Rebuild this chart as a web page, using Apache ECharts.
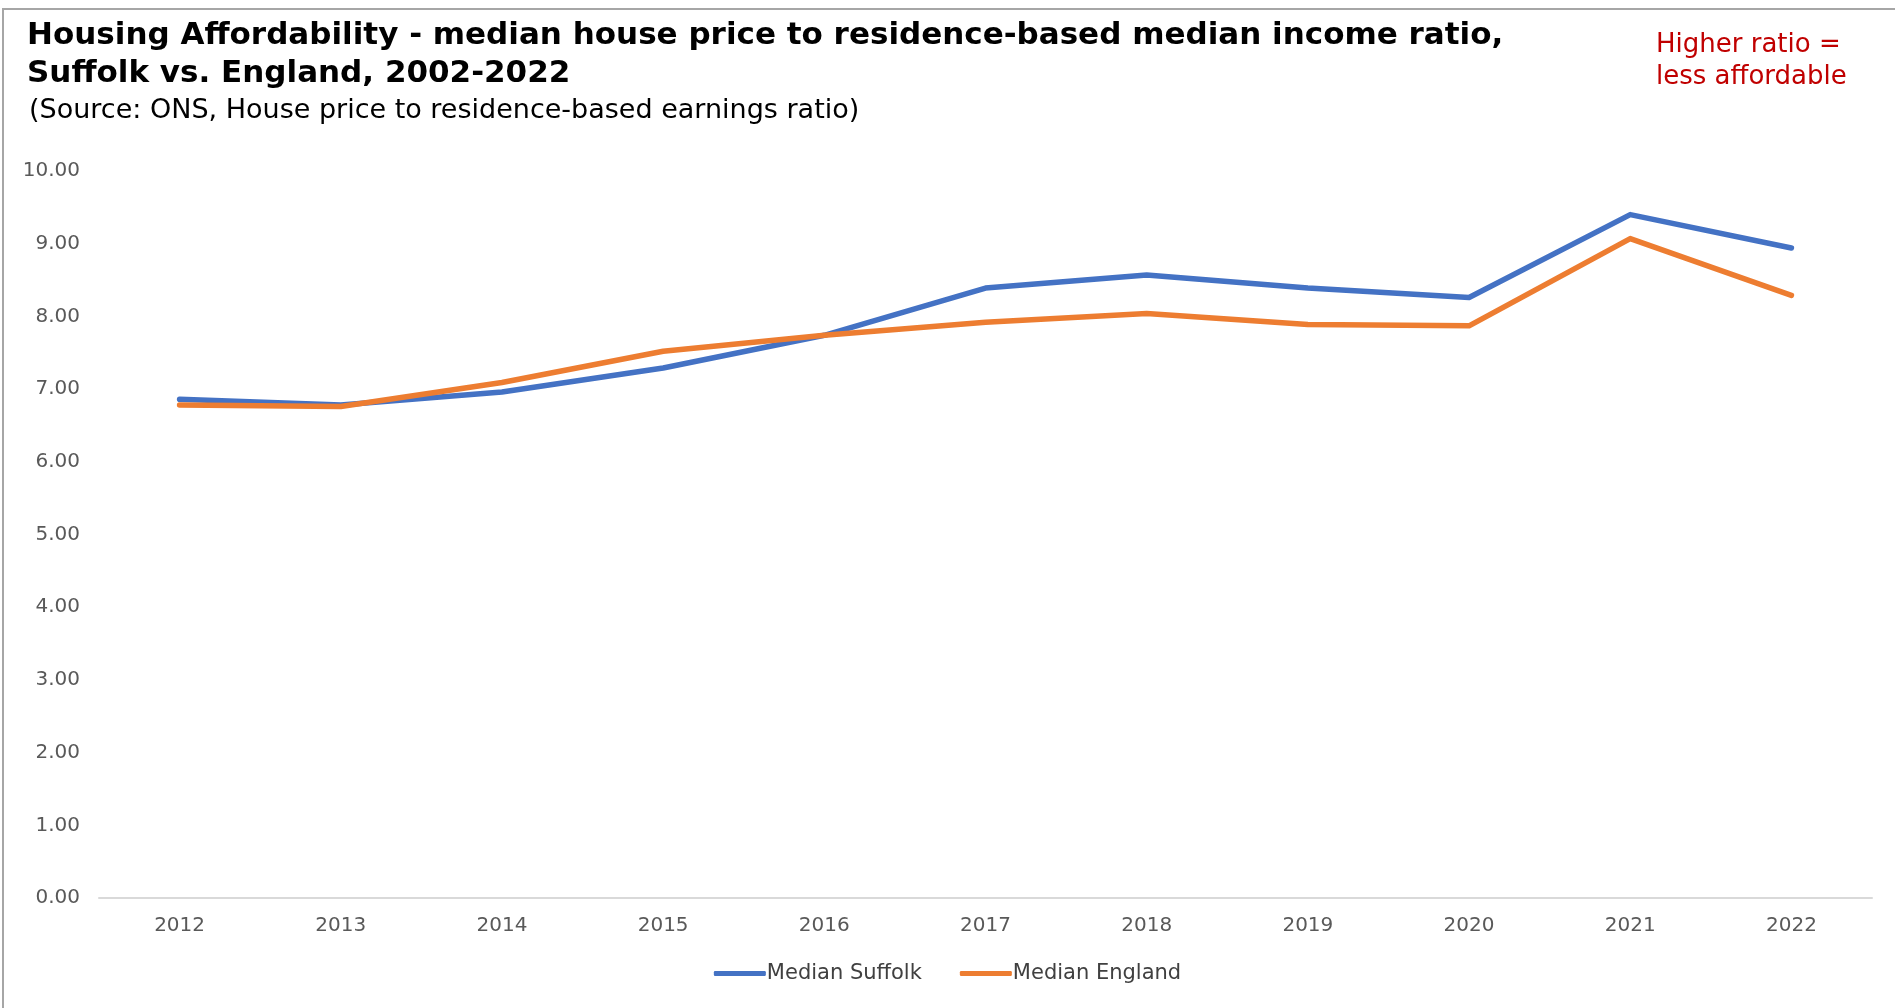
<!DOCTYPE html>
<html>
<head>
<meta charset="utf-8">
<title>Housing Affordability</title>
<script src="https://cdn.jsdelivr.net/npm/echarts@6/dist/echarts.min.js"></script>
<style>
  html, body { margin: 0; padding: 0; background: #fff; }
  #frame {
    position: absolute; left: 2px; top: 8px; width: 1900px; height: 1010px;
    border-left: 2px solid #a6a6a6; border-top: 2px solid #a6a6a6;
  }
  #main { position: absolute; left: 0; top: 0; width: 1895px; height: 1008px; }
</style>
</head>
<body>
<div id="frame"></div>
<div id="main"></div>
<script>
// data
var years = ['2012', '2013', '2014', '2015', '2016', '2017', '2018', '2019', '2020', '2021', '2022'];
var suffolk = [6.86, 6.78, 6.96, 7.29, 7.74, 8.39, 8.57, 8.39, 8.26, 9.40, 8.94];
var england = [6.78, 6.76, 7.09, 7.52, 7.74, 7.92, 8.04, 7.89, 7.87, 9.07, 8.29];

var font = 'DejaVu Sans';
var chart = echarts.init(document.getElementById('main'));

var option = {
    animation: false,
    title: [
        {
            text: 'Housing Affordability - median house price to residence-based median income ratio,\nSuffolk vs. England, 2002-2022',
            left: 22, top: 12,
            textStyle: { fontFamily: font, fontSize: 31, fontWeight: 'bold', color: '#000', lineHeight: 38 }
        },
        {
            text: '(Source: ONS, House price to residence-based earnings ratio)',
            left: 24, top: 90,
            textStyle: { fontFamily: font, fontSize: 27, fontWeight: 'normal', color: '#000', lineHeight: 32 }
        },
        {
            text: 'Higher ratio =\nless affordable',
            left: 1651, top: 24,
            textStyle: { fontFamily: font, fontSize: 26, fontWeight: 'normal', color: '#c00000', lineHeight: 32 }
        }
    ],
    legend: {
        data: ['Median Suffolk', 'Median England'],
        bottom: 19,
        left: 'center',
        itemWidth: 52,
        itemHeight: 5,
        itemGap: 38,
        icon: 'roundRect',
        textStyle: { fontFamily: font, fontSize: 21, color: '#404040', padding: [0, 0, 0, -4] }
    },
    grid: { left: 99, right: 23, top: 171, bottom: 110 },
    xAxis: {
        type: 'category',
        data: years,
        boundaryGap: true,
        axisLine: { lineStyle: { color: '#d9d9d9', width: 2 } },
        axisTick: { show: false },
        axisLabel: { fontFamily: font, fontSize: 20, color: '#595959', margin: 18 }
    },
    yAxis: {
        type: 'value',
        min: 0, max: 10, interval: 1,
        axisLine: { show: false },
        axisTick: { show: false },
        splitLine: { show: false },
        axisLabel: {
            fontFamily: font, fontSize: 20, color: '#595959', margin: 19,
            formatter: function (v) { return v.toFixed(2); }
        }
    },
    series: [
        {
            name: 'Median Suffolk', type: 'line', data: suffolk,
            symbol: 'none', color: '#4472c4',
            lineStyle: { width: 5.5, cap: 'round', join: 'round' }
        },
        {
            name: 'Median England', type: 'line', data: england,
            symbol: 'none', color: '#ed7d31',
            lineStyle: { width: 5.5, cap: 'round', join: 'round' }
        }
    ]
};

chart.setOption(option);
</script>
</body>
</html>
